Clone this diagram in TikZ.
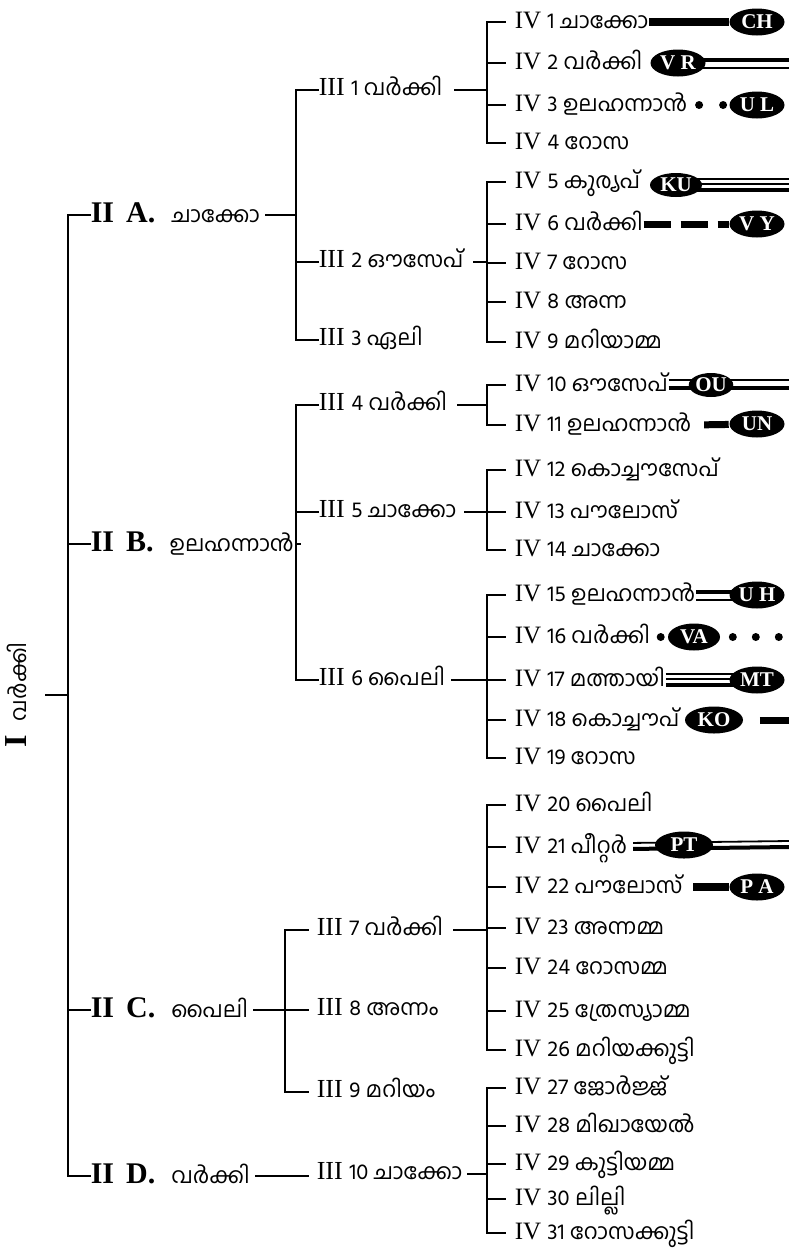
\documentclass[tikz,border=0pt]{standalone}
\usepackage{fontspec}
\setmainfont{Liberation Serif}
\newfontfamily\mal[Script=Malayalam]{Hind Kochi}
\newcommand{\ml}[1]{{\fontsize{22}{24}\selectfont\mal #1}}
\usetikzlibrary{backgrounds,shapes.geometric}

\begin{document}
\begin{tikzpicture}
[x=1pt,y=-1pt,line width=1.6pt,line cap=rect]
\tikzstyle{gen1}=[rotate=90, inner sep=0pt, text height=22pt, text depth=4pt, font=\fontsize{32}{34}\selectfont]
\tikzstyle{gen2}=[anchor=west, inner sep=0pt, text height=20pt, text depth=6pt, font=\fontsize{30}{32}\selectfont]
\tikzstyle{gen3}=[anchor=west, inner sep=0pt, text height=17pt, text depth=7pt, font=\fontsize{26}{28}\selectfont]
\tikzstyle{gen4}=[anchor=west, inner sep=0pt, text height=16pt, text depth=4pt, font=\fontsize{25}{28}\selectfont]
\tikzstyle{badge}=[ellipse, fill=black, text=white, inner sep=0pt, minimum width=55pt, minimum height=27pt, font=\fontsize{21}{21}\selectfont\bfseries]
\tikzstyle{bar}=[line width=8pt, line cap=butt]
\tikzstyle{dashes}=[line width=7pt, line cap=butt, dash pattern=on 27pt off 10pt]
\tikzstyle{dots}=[line width=8pt, line cap=round, dash pattern=on 0pt off 24pt]
\tikzstyle{thickln}=[line width=4.5pt, line cap=butt]
\tikzstyle{thinln}=[line width=1.8pt, line cap=butt]

\useasboundingbox (0,0) rectangle (789,1254);

% bus lines
\coordinate (b1) at (68,0);
\coordinate (b2) at (296,0);
\coordinate (b3) at (285,0);
\coordinate (b4) at (487,0);

% generation I
\node[gen1] (root) at (18,695) {\textbf{I}\hspace{14pt}\ml{വർക്കി}};

% generation II
\node[gen2] (iiA) at (90,215) {\textbf{II\hspace{12pt}A.}\hspace{16pt}\ml{ചാക്കോ}};
\node[gen2] (iiB) at (90,544) {\textbf{II\hspace{12pt}B.}\hspace{16pt}\ml{ഉലഹന്നാൻ}};
\node[gen2] (iiC) at (90,1010) {\textbf{II\hspace{12pt}C.}\hspace{16pt}\ml{പൈലി}};
\node[gen2] (iiD) at (90,1176) {\textbf{II\hspace{12pt}D.}\hspace{16pt}\ml{വർക്കി}};

% generation III
\node[gen3] (iii1) at (318,90) {III \ml{1 വർക്കി}};
\node[gen3] (iii2) at (318,262) {III \ml{2 ഔസേപ്}};
\node[gen3] (iii3) at (318,340) {III \ml{3 ഏലി}};
\node[gen3] (iii4) at (318,405) {III \ml{4 വർക്കി}};
\node[gen3] (iii5) at (318,512) {III \ml{5 ചാക്കോ}};
\node[gen3] (iii6) at (318,680) {III \ml{6 പൈലി}};
\node[gen3] (iii7) at (316,930) {III \ml{7 വർക്കി}};
\node[gen3] (iii8) at (316,1010) {III \ml{8 അന്നം}};
\node[gen3] (iii9) at (316,1092) {III \ml{9 മറിയം}};
\node[gen3] (iii10) at (316,1174) {III \ml{10 ചാക്കോ}};

% generation IV
\node[gen4] (iv1) at (514,22) {IV \ml{1 ചാക്കോ}};
\node[gen4] (iv2) at (514,63) {IV \ml{2 വർക്കി}};
\node[gen4] (iv3) at (514,105) {IV \ml{3 ഉലഹന്നാൻ}};
\node[gen4] (iv4) at (514,143) {IV \ml{4 റോസ}};
\node[gen4] (iv5) at (514,182) {IV \ml{5 കുര്യപ്}};
\node[gen4] (iv6) at (514,224) {IV \ml{6 വർക്കി}};
\node[gen4] (iv7) at (514,263) {IV \ml{7 റോസ}};
\node[gen4] (iv8) at (514,302) {IV \ml{8 അന്ന}};
\node[gen4] (iv9) at (514,342) {IV \ml{9 മറിയാമ്മ}};
\node[gen4] (iv10) at (514,385) {IV \ml{10 ഔസേപ്}};
\node[gen4] (iv11) at (514,425) {IV \ml{11 ഉലഹന്നാൻ}};
\node[gen4] (iv12) at (514,470) {IV \ml{12 കൊച്ചൗസേപ്}};
\node[gen4] (iv13) at (514,512) {IV \ml{13 പൗലോസ്}};
\node[gen4] (iv14) at (514,550) {IV \ml{14 ചാക്കോ}};
\node[gen4] (iv15) at (514,595) {IV \ml{15 ഉലഹന്നാൻ}};
\node[gen4] (iv16) at (514,637) {IV \ml{16 വർക്കി}};
\node[gen4] (iv17) at (514,680) {IV \ml{17 മത്തായി}};
\node[gen4] (iv18) at (514,720) {IV \ml{18 കൊച്ചൗപ്}};
\node[gen4] (iv19) at (514,758) {IV \ml{19 റോസ}};
\node[gen4] (iv20) at (514,805) {IV \ml{20 പൈലി}};
\node[gen4] (iv21) at (514,847) {IV \ml{21 പീറ്റർ}};
\node[gen4] (iv22) at (514,887) {IV \ml{22 പൗലോസ്}};
\node[gen4] (iv23) at (514,928) {IV \ml{23 അന്നമ്മ}};
\node[gen4] (iv24) at (514,968) {IV \ml{24 റോസമ്മ}};
\node[gen4] (iv25) at (514,1011) {IV \ml{25 ത്രേസ്യാമ്മ}};
\node[gen4] (iv26) at (514,1050) {IV \ml{26 മറിയക്കുട്ടി}};
\node[gen4] (iv27) at (514,1088) {IV \ml{27 ജോർജ്ജ്}};
\node[gen4] (iv28) at (514,1126) {IV \ml{28 മിഖായേൽ}};
\node[gen4] (iv29) at (514,1164) {IV \ml{29 കുട്ടിയമ്മ}};
\node[gen4] (iv30) at (514,1199) {IV \ml{30 ലില്ലി}};
\node[gen4] (iv31) at (514,1233) {IV \ml{31 റോസക്കുട്ടി}};

% house marks
\node[badge] (ch) at (757,22) {CH};
\node[badge] (vr) at (678,63) {V R};
\node[badge] (ul) at (757,105) {U L};
\node[badge, minimum width=52pt, minimum height=24pt] (ku) at (676,185) {KU};
\node[badge] (vy) at (757,224) {V Y};
\node[badge, minimum width=37pt, minimum height=24pt] (ou) at (711,385) {OU};
\node[badge] (un) at (757,424) {UN};
\node[badge] (uh) at (757,595) {U H};
\node[badge, minimum width=52pt] (va) at (694,637) {VA};
\node[badge] (mt) at (757,680) {MT};
\node[badge, minimum width=58pt] (ko) at (714,720) {KO};
\node[badge, minimum width=58pt] (pt) at (684,845) {PT};
\node[badge] (pa) at (757,887) {P A};

\coordinate (vr-end) at (789,63);
\coordinate (ku-end) at (789,185);
\coordinate (ou-end) at (789,385);
\coordinate (va-end) at (789,637);
\coordinate (ko-end) at (789,720);
\coordinate (pt-end) at (789,845);

% tree
\draw[shorten <=14pt] (root.south) -- (root.south -| b1);
\draw (iiA.west) -- (iiA.west -| b1) -- (iiD.west -| b1) -- (iiD.west);
\draw (iiB.west) -- (iiB.west -| b1);
\draw (iiC.west) -- (iiC.west -| b1);

\draw[shorten <=5pt] (iiA.east) -- (iiA.east -| b2);
\draw (iii1.west) -- (iii1.west -| b2) -- (iii3.west -| b2) -- (iii3.west);
\draw (iii2.west) -- (iii2.west -| b2);
\draw[shorten <=5pt] (iiB.east) -- (iiB.east -| b2);
\draw (iii4.west) -- (iii4.west -| b2) -- (iii6.west -| b2) -- (iii6.west);
\draw (iii5.west) -- (iii5.west -| b2);
\draw[shorten <=5pt] (iiC.east) -- (iiC.east -| b3);
\draw[shorten <=8pt, shorten >=8pt] (iii7.west) -- (iii7.west -| b3) -- (iii9.west -| b3) -- (iii9.west);
\draw[shorten >=8pt] (iii8.west -| b3) -- (iii8.west);
\draw[shorten <=5pt, shorten >=8pt] (iiD.east) -- (iiD.east -| iii10.west);

\draw[shorten <=12pt] (iii1.east) -- (iii1.east -| b4);
\draw[shorten <=9pt, shorten >=9pt] (iv1.west) -- (iv1.west -| b4) -- (iv4.west -| b4) -- (iv4.west);
\draw[shorten >=9pt] (iv2.west -| b4) -- (iv2.west);
\draw[shorten >=9pt] (iv3.west -| b4) -- (iv3.west);

\draw[shorten <=10pt] (iii2.east) -- (iii2.east -| b4);
\draw[shorten <=9pt, shorten >=9pt] (iv5.west) -- (iv5.west -| b4) -- (iv9.west -| b4) -- (iv9.west);
\draw[shorten >=9pt] (iv6.west -| b4) -- (iv6.west);
\draw[shorten >=9pt] (iv7.west -| b4) -- (iv7.west);
\draw[shorten >=9pt] (iv8.west -| b4) -- (iv8.west);

\draw[shorten <=10pt] (iii4.east) -- (iii4.east -| b4);
\draw[shorten <=9pt, shorten >=9pt] (iv10.west) -- (iv10.west -| b4) -- (iv11.west -| b4) -- (iv11.west);

\draw[shorten <=8pt] (iii5.east) -- (iii5.east -| b4);
\draw[shorten <=9pt, shorten >=9pt] (iv12.west) -- (iv12.west -| b4) -- (iv14.west -| b4) -- (iv14.west);
\draw[shorten >=9pt] (iv13.west -| b4) -- (iv13.west);

\draw[shorten <=6pt] (iii6.east) -- (iii6.east -| b4);
\draw[shorten <=9pt, shorten >=9pt] (iv15.west) -- (iv15.west -| b4) -- (iv19.west -| b4) -- (iv19.west);
\draw[shorten >=9pt] (iv16.west -| b4) -- (iv16.west);
\draw[shorten >=9pt] (iv17.west -| b4) -- (iv17.west);
\draw[shorten >=9pt] (iv18.west -| b4) -- (iv18.west);

\draw[shorten <=10pt] (iii7.east) -- (iii7.east -| b4);
\draw[shorten <=9pt, shorten >=9pt] (iv20.west) -- (iv20.west -| b4) -- (iv26.west -| b4) -- (iv26.west);
\draw[shorten >=9pt] (iv21.west -| b4) -- (iv21.west);
\draw[shorten >=9pt] (iv22.west -| b4) -- (iv22.west);
\draw[shorten >=9pt] (iv23.west -| b4) -- (iv23.west);
\draw[shorten >=9pt] (iv24.west -| b4) -- (iv24.west);
\draw[shorten >=9pt] (iv25.west -| b4) -- (iv25.west);

\draw[shorten <=5pt] (iii10.east) -- (iii10.east -| b4);
\draw[shorten <=9pt, shorten >=9pt] (iv27.west) -- (iv27.west -| b4) -- (iv31.west -| b4) -- (iv31.west);
\draw[shorten >=9pt] (iv28.west -| b4) -- (iv28.west);
\draw[shorten >=9pt] (iv29.west -| b4) -- (iv29.west);
\draw[shorten >=9pt] (iv30.west -| b4) -- (iv30.west);

% house mark lines, behind the marks
\begin{pgfonlayer}{background}
\draw[bar] (iv1.east) -- (ch);
\draw[thickln] ([yshift=3pt]vr.center) -- ([yshift=3pt]vr-end);
\draw[thinln] ([yshift=-5pt]vr.center) -- ([yshift=-5pt]vr-end);
\draw[dots, shorten <=11pt] (iv3.east) -- (ul);
\draw[thinln] ([yshift=6pt]ku.center) -- ([yshift=6pt]ku-end);
\draw[thinln] ([yshift=1pt]ku.center) -- ([yshift=1pt]ku-end);
\draw[thickln, line width=3.5pt] ([yshift=-5pt]ku.center) -- ([yshift=-5pt]ku-end);
\draw[dashes] (iv6.east) -- (vy);
\draw[thinln] ([yshift=5pt]iv10.east) -- ([yshift=5pt]ou-end);
\draw[thickln] ([yshift=-3pt]iv10.east) -- ([yshift=-3pt]ou-end);
\draw[bar, line width=7pt, shorten <=12pt] (iv11.east) -- (un);
\draw[thickln] ([yshift=3pt]iv15.east) -- ([yshift=3pt]uh.center);
\draw[thinln] ([yshift=-5pt]iv15.east) -- ([yshift=-5pt]uh.center);
\draw[dots, shorten <=10pt] (iv16.east) -- (va);
\draw[dots, shorten <=12pt, dash pattern=on 0pt off 23pt] (va.east) -- (va-end);
\draw[thinln] ([yshift=6pt]iv17.east) -- ([yshift=6pt]mt.center);
\draw[thinln] ([yshift=1pt]iv17.east) -- ([yshift=1pt]mt.center);
\draw[thickln, line width=3.5pt] ([yshift=-5pt]iv17.east) -- ([yshift=-5pt]mt.center);
\draw[bar, line width=7pt, shorten <=16pt] (ko.east) -- (ko-end);
\draw[thinln, shorten <=5pt] ([yshift=4pt]iv21.east) -- ([yshift=4pt]pt-end);
\draw[thickln, line width=4pt, shorten <=5pt] ([yshift=-2pt]iv21.east) -- ([yshift=-2pt]pt-end);
\draw[bar, shorten <=10pt] (iv22.east) -- (pa);
\end{pgfonlayer}
\end{tikzpicture}
\end{document}
